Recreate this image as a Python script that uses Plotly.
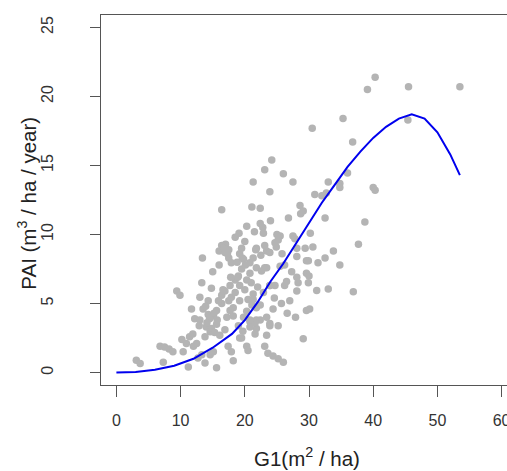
import plotly.graph_objects as go

g1 = [
    40.3, 39.1, 45.5, 53.5, 35.3, 30.5, 45.4, 36.8,
    24.2, 23.1, 26.0, 27.5, 36.0, 33.0, 34.8, 34.8, 40.0, 40.3, 23.9, 21.3,
    30.9, 32.0, 32.7, 21.1, 22.4, 28.6, 29.1, 28.7, 32.5, 38.7, 16.4,
    20.3, 22.4, 19.1, 25.5, 24.7, 27.5, 25.0, 27.8, 30.2,
    37.7, 33.8, 32.5, 31.4, 29.9, 34.8, 29.4, 30.6,
    28.1, 28.1, 29.6,
    16.4, 17.0, 17.5, 16.9, 17.5,
    13.4, 19.2, 17.9, 20.8, 21.3,
    23.4, 23.9, 24.9, 25.2, 23.1,
    23.1, 21.8, 22.6, 23.4,
    28.1, 29.6, 30.0, 26.2, 25.5,
    23.9, 24.7,
    20.8, 20.3, 19.2, 18.5, 17.7,
    13.3, 14.8, 9.4, 9.9,
    13.0, 14.3, 16.4,
    17.9, 19.2, 18.2, 17.5,
    21.3, 21.8,
    11.7, 13.5, 14.3, 15.1, 15.6,
    12.2, 13.0,
    14.0, 14.8, 15.6,
    17.2, 17.7, 18.2,
    22.4, 24.4, 23.4, 21.8, 20.8, 19.8, 19.0, 23.9, 21.8, 23.4, 25.2, 23.9,
    16.9, 16.1, 14.6, 13.8, 11.4, 11.9, 10.2, 10.9,
    6.8, 7.5, 8.2, 8.8, 10.4, 12.0, 12.5,
    13.3, 12.7, 13.8, 14.6, 15.1, 17.9, 17.4, 15.6, 18.2,
    19.2, 20.3, 20.5, 20.8, 21.6,
    23.1, 23.6, 24.4, 25.2, 26.0,
    29.1, 29.6, 30.1, 28.1, 27.0, 26.2, 26.5,
    28.3, 29.9, 31.2, 33.0, 36.9,
    3.1, 3.7, 7.3, 11.2,
    19.5, 20.0, 21.0, 22.0, 19.0, 18.5, 20.5, 22.5, 21.8, 20.0, 19.5, 18.5,
    22.4, 21.6, 20.8, 19.7, 19.5, 21.3, 21.1, 20.3, 22.9, 23.9, 15.9, 16.4,
    15.0, 16.0, 18.8, 19.8, 21.5, 22.8, 24.0, 26.8, 27.3, 25.8,
    16.0, 16.7, 17.3, 15.2, 14.5, 13.9, 15.7, 16.9, 18.9, 20.1, 21.7, 22.9,
    12.9, 14.1, 15.3, 16.6, 17.8, 19.6, 24.6, 25.7, 27.9, 26.6,
]
pai = [
    21.4, 20.5, 20.7, 20.7, 18.4, 17.7, 18.3, 16.7,
    15.4, 14.7, 14.4, 13.8, 14.45, 13.8, 13.7, 13.4, 13.4, 13.2, 13.1, 13.8,
    12.9, 12.8, 13.0, 12.0, 11.9, 12.1, 11.7, 11.5, 11.2, 10.9, 11.8,
    10.6, 10.8, 10.1, 9.9, 9.4, 9.9, 10.0, 9.7, 10.1,
    9.3, 8.8, 8.3, 7.95, 8.1, 7.8, 9.0, 9.1,
    9.0, 8.4, 8.1,
    9.2, 9.3, 8.9, 8.7, 8.3,
    8.3, 8.6, 7.95, 7.95, 8.3,
    8.8, 8.7, 9.1, 9.6, 9.2,
    7.6, 7.6, 7.35, 7.6,
    6.9, 7.2, 7.0, 7.8, 7.7,
    6.3, 6.3,
    7.2, 6.7, 6.3, 6.7, 6.3,
    6.5, 6.1, 5.9, 5.6,
    5.45, 5.2, 5.0,
    5.45, 5.2, 4.7, 5.2,
    5.7, 4.7,
    4.6, 4.6, 4.2, 4.1, 4.5,
    3.9, 3.8,
    3.3, 3.2, 3.5,
    4.0, 4.5, 4.1,
    4.9, 4.6, 4.0, 3.8, 3.7, 4.0, 3.4, 3.4, 3.2, 2.7, 3.4, 3.55,
    3.1, 2.7, 2.95, 2.6, 2.6, 2.8, 2.4, 2.1,
    1.9, 1.85, 1.7, 1.5, 1.5, 1.9, 2.1,
    1.3, 1.05, 0.7, 1.3, 1.5, 1.5, 1.9, 0.35, 0.85,
    2.5, 1.9, 1.6, 3.3, 2.8,
    1.9, 1.4, 1.2, 1.0, 0.75,
    2.45, 4.5, 4.6, 5.9, 5.2, 6.3, 6.6,
    6.5, 6.5, 5.95, 6.05, 5.85,
    0.9, 0.65, 0.75, 0.4,
    7.5, 6.0, 6.5, 6.2, 7.0, 5.8, 5.3, 8.5, 9.0, 9.5, 9.0, 9.8,
    3.8, 3.6, 3.8, 3.0, 2.5, 5.3, 4.9, 4.45, 5.8, 6.3, 5.2, 5.6,
    7.3, 7.8, 8.0, 8.2, 10.2, 10.5, 11.0, 11.2, 7.3, 8.6,
    8.8, 9.0, 8.6, 4.3, 3.9, 4.8, 3.8, 5.9, 6.9, 7.8, 8.9, 10.1,
    3.4, 3.6, 2.9, 6.0, 6.9, 8.3, 5.4, 5.0, 4.0, 4.3,
]

# Fitted curve
fit_x = [0, 3, 6, 9, 12, 15, 18, 20, 22, 24, 26, 28, 30, 32, 34, 36, 38,
         40, 42, 44, 46, 48, 50, 52, 53.5]
fit_y = [0, 0.05, 0.2, 0.5, 1.0, 1.8, 2.8, 3.8, 5.1, 6.6, 7.9, 9.4, 10.9,
         12.3, 13.6, 14.9, 16.0, 17.0, 17.8, 18.4, 18.7, 18.4, 17.4, 15.8, 14.3]

x_ticks = [0, 10, 20, 30, 40, 50, 60]
y_ticks = [0, 5, 10, 15, 20, 25]
x_title = "G1(m<sup>2</sup> / ha)"
y_title = "PAI (m<sup>3</sup> / ha / year)"

fig = go.Figure()
fig.add_trace(go.Scatter(
    x=g1, y=pai, mode="markers",
    marker=dict(color="#b4b4b4", size=7.5, line=dict(width=0)),
    showlegend=False, hoverinfo="skip"))
fig.add_trace(go.Scatter(
    x=fit_x, y=fit_y, mode="lines", line=dict(color="#0000ee", width=2),
    showlegend=False, hoverinfo="skip"))

font_family = "Liberation Sans, Arial, sans-serif"
fig.update_layout(
    width=507, height=471,
    margin=dict(l=101, r=0, t=15, b=86),
    paper_bgcolor="white", plot_bgcolor="white",
    font=dict(family=font_family, color="#333333"),
    xaxis=dict(
        range=[-2.4, 60.84], tickvals=x_ticks, ticktext=[str(v) for v in x_ticks],
        showgrid=False, zeroline=False, showline=True, mirror=True,
        linecolor="#555555", linewidth=1.3, automargin=False,
        ticks="outside", ticklen=11, tickwidth=1, tickcolor="#555555",
        tickfont=dict(size=16, color="#333333"), ticklabelstandoff=10,
        ticklabeloverflow="allow",
    ),
    yaxis=dict(
        range=[-0.9, 25.9], tickvals=y_ticks, ticktext=[str(v) for v in y_ticks],
        showgrid=False, zeroline=False, showline=True, mirror=False,
        linecolor="#555555", linewidth=1.3, automargin=False,
        ticks="outside", ticklen=10, tickwidth=1, tickcolor="#555555",
        tickangle=-90,
        tickfont=dict(size=16, color="#333333"), ticklabelstandoff=30,
    ),
    annotations=[
        dict(text=x_title, xref="paper", yref="paper", x=0.507, y=0,
             xanchor="center", yanchor="middle", yshift=-72, showarrow=False,
             font=dict(size=20.5, color="#222222")),
        dict(text=y_title, xref="paper", yref="paper", x=0, y=0.49,
             xanchor="center", yanchor="middle", xshift=-74, textangle=-90,
             showarrow=False, font=dict(size=20.5, color="#222222")),
    ],
)

fig.write_html(
    "out.html",
    config={"displayModeBar": False},
    post_script="document.body.style.margin='0';document.body.style.overflow='hidden';",
)
